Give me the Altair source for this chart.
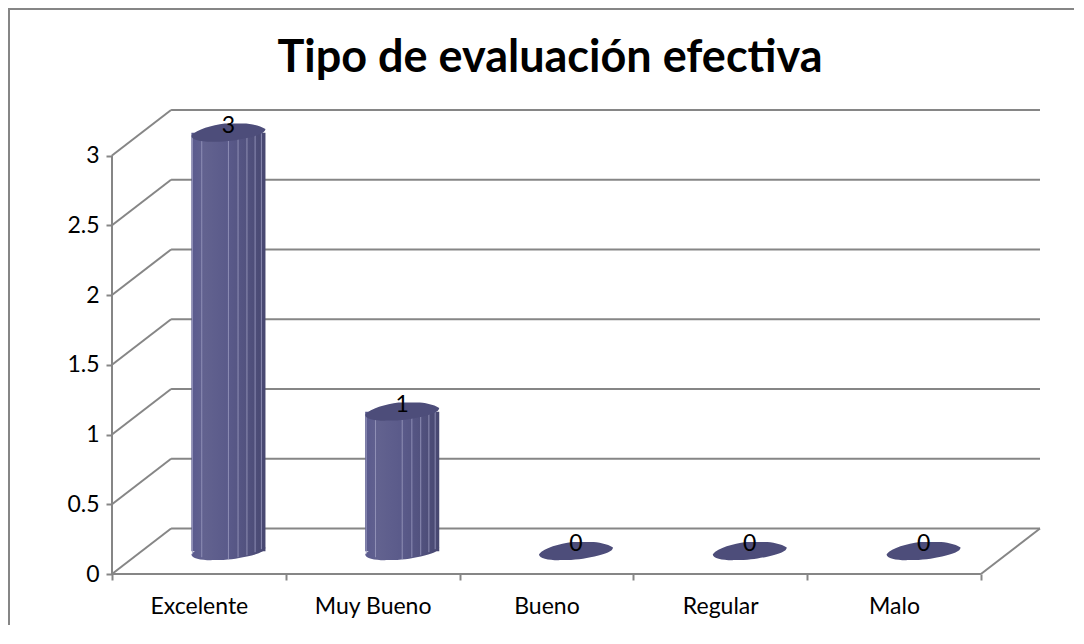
import altair as alt
import pandas as pd

# ---- chart values ----
categories = ["Excelente", "Muy Bueno", "Bueno", "Regular", "Malo"]
values = [3, 1, 0, 0, 0]
y_ticks = [0, 0.5, 1, 1.5, 2, 2.5, 3]
title_text = "Tipo de evaluación efectiva"

# ---- pseudo-3D geometry in scale units ----
PX_X = 173.6          # pixels per category
PX_Y = 139.3          # pixels per value unit
DEPTH_X = 59 / PX_X   # wall depth, x units
DEPTH_Y = 45.5 / PX_Y # wall depth, y units
X_MAX = len(categories) + DEPTH_X
Y_MAX = 3 + DEPTH_Y
HALF = 37 / PX_X      # half width of a column

GRAY = "#868686"
FONT = "Lato"

xs = alt.Scale(domain=[0, X_MAX], nice=False, zero=False)
ys = alt.Scale(domain=[0, Y_MAX], nice=False, zero=False)

x_ticks = sorted(set([i * 1.0 for i in range(len(categories) + 1)] +
                     [i + 0.5 for i in range(len(categories))]))
label_expr = "datum.value % 1 === 0 ? '' : [" + ",".join(f"'{c}'" for c in categories) + "][floor(datum.value)]"

x_axis = alt.Axis(values=x_ticks, labelExpr=label_expr, title=None, grid=False, domain=False,
                  tickColor=GRAY, tickWidth=2, tickSize=6, labelAngle=0, labelAlign="center",
                  labelFont=FONT, labelFontSize=23, labelColor="black", labelPadding=15,
                  labelOverlap=False, labelFlush=False,
                  tickOpacity={"condition": {"test": "datum.value % 1 === 0", "value": 1}, "value": 0})
y_axis = alt.Axis(values=y_ticks, title=None, grid=False, domain=False, tickColor=GRAY, tickWidth=2,
                  tickSize=6, labelFont=FONT, labelFontSize=23, labelColor="black", labelPadding=7,
                  format="~g", labelOverlap=False, labelFlush=False)

# ---- walls ----
walls = pd.DataFrame([{"x": DEPTH_X, "x2": X_MAX, "y": v + DEPTH_Y} for v in y_ticks])
back = alt.Chart(walls).mark_rule(color=GRAY, strokeWidth=2).encode(
    x=alt.X("x:Q", scale=xs, axis=x_axis), x2="x2:Q",
    y=alt.Y("y:Q", scale=ys, axis=y_axis))

diag_rows = []
for k, v in enumerate(y_ticks):
    diag_rows += [{"k": k, "x": 0, "y": v}, {"k": k, "x": DEPTH_X, "y": v + DEPTH_Y}]
diag_rows += [{"k": 99, "x": len(categories), "y": 0}, {"k": 99, "x": X_MAX, "y": DEPTH_Y}]
# front edges: value axis and category axis
diag_rows += [{"k": 100, "x": 0, "y": 0}, {"k": 100, "x": 0, "y": max(y_ticks)}]
diag_rows += [{"k": 101, "x": 0, "y": 0}, {"k": 101, "x": len(categories), "y": 0}]
diag = alt.Chart(pd.DataFrame(diag_rows)).mark_line(color=GRAY, strokeWidth=2).encode(
    x=alt.X("x:Q", scale=xs), y=alt.Y("y:Q", scale=ys), detail="k:N")

# ---- columns ----
df = pd.DataFrame({"cat": categories, "value": values})
df["cx"] = [i + 0.5 + DEPTH_X / 2 for i in range(len(categories))]
df["base"] = DEPTH_Y / 2
df["top"] = df["value"] + DEPTH_Y / 2
df["x1"] = df["cx"] - HALF
df["x2"] = df["cx"] + HALF
tall = df[df["value"] > 0]

grad = alt.Gradient(gradient="linear", x1=0, x2=1, y1=0, y2=0, stops=[
    alt.GradientStop(offset=0, color="#5a5a8e"),
    alt.GradientStop(offset=0.18, color="#62628f"),
    alt.GradientStop(offset=0.5, color="#5a5a8a"),
    alt.GradientStop(offset=0.8, color="#50507c"),
    alt.GradientStop(offset=1, color="#474770"),
])

BLOB = ("M-1,0.08 C-0.85,-0.1 -0.45,-0.2 -0.1,-0.25 L0.4,-0.25 C0.6,-0.25 0.85,-0.2 1,-0.1 "
        "C1,0 0.8,0.08 0.5,0.14 C0.2,0.2 0,0.24 -0.4,0.24 C-0.7,0.25 -1,0.2 -1,0.08 Z")
BLOB_SIZE = 74 ** 2

bottom = alt.Chart(tall).mark_point(shape=BLOB, size=BLOB_SIZE, filled=True, fill=grad, opacity=1, strokeWidth=0).encode(
    x=alt.X("cx:Q", scale=xs), y=alt.Y("base:Q", scale=ys))
body = alt.Chart(tall).mark_bar(fill=grad, stroke=None).encode(
    x=alt.X("x1:Q", scale=xs), x2="x2:Q", y=alt.Y("base:Q", scale=ys), y2="top:Q")

# facet lines: horizontal place across the column, drop of the lower rim in px there
facets = [(-0.97, 3), (-0.72, 6), (0.0, 8), (0.26, 6), (0.5, 4), (0.72, 1), (0.89, -2)]
line_rows = []
for _, r in tall.iterrows():
    for t, drop in facets:
        line_rows.append({"x": r["cx"] + t * HALF, "y": r["base"] - drop / PX_Y, "y2": r["top"] - drop / PX_Y})
lines = alt.Chart(pd.DataFrame(line_rows)).mark_rule(color="#9c9cc0", strokeWidth=1, opacity=0.8).encode(
    x=alt.X("x:Q", scale=xs), y=alt.Y("y:Q", scale=ys), y2="y2:Q")

top = alt.Chart(df).mark_point(shape=BLOB, size=BLOB_SIZE, filled=True, fill="#4d4d7a", opacity=1, strokeWidth=0).encode(
    x=alt.X("cx:Q", scale=xs), y=alt.Y("top:Q", scale=ys))

text = alt.Chart(df).mark_text(font=FONT, fontSize=23, color="black", dy=-7, baseline="middle").encode(
    x=alt.X("cx:Q", scale=xs), y=alt.Y("top:Q", scale=ys), text=alt.Text("value:Q", format="d"))

# ---- outer frame: only the top and left edges are visible ----
one = pd.DataFrame({"a": [0]})
frame_top = alt.Chart(one).mark_rect(fill=GRAY, stroke=None).encode(
    x=alt.value(-104), x2=alt.value(962), y=alt.value(-102), y2=alt.value(-100))
frame_left = alt.Chart(one).mark_rect(fill=GRAY, stroke=None).encode(
    x=alt.value(-104), x2=alt.value(-102), y=alt.value(-102), y2=alt.value(515))

chart = alt.layer(frame_top, frame_left, back, diag, bottom, body, lines, top, text).properties(
    width=928, height=464, padding=0, background="white",
    title=alt.TitleParams(title_text, font=FONT, fontSize=45, fontWeight="bold", color="black",
                          anchor="middle", dx=-26, offset=-73),
).configure_view(strokeWidth=0, strokeOpacity=0)

chart.save("out.html", embed_options={"renderer": "svg", "actions": False})
